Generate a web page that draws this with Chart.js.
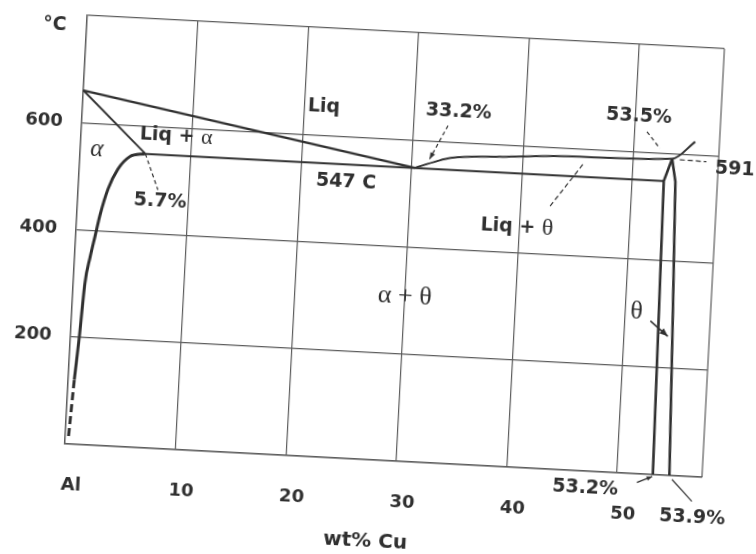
<!DOCTYPE html>
<html>
<head>
<meta charset="utf-8">
<script src="https://cdn.jsdelivr.net/npm/chart.js@4.4.1/dist/chart.umd.min.js"></script>
<style>
html,body{margin:0;padding:0;background:#fff;overflow:hidden;width:756px;height:554px;}
#wrap{position:absolute;left:0;top:0;width:756px;height:554px;transform:rotate(3deg);transform-origin:378px 277px;}
canvas{display:block;}
</style>
</head>
<body>
<div id="wrap"><canvas id="c" width="756" height="554"></canvas></div>
<script>
// ---------- data (wt% Cu, temperature in °C) ----------
const xTickLabels = ['Al', '10', '20', '30', '40', '50'];
const yTickValues = [200, 400, 600];

const liquidusAlX = [0, 30.3];
const liquidusAlT = [660, 548];
const solidusX = [0, 5.9];
const solidusT = [660, 548];
const solvusX = [0.55, 0.8, 1.05, 1.4, 1.75, 2.1, 2.7, 3.5, 4.5, 5.9];
const solvusT = [120, 200, 300, 350, 390, 430, 479, 517, 541, 548];
const solvusLowX = [0.3, 0.55];
const solvusLowT = [15, 120];
const eutecticX = [5.9, 52.85];
const eutecticT = [548, 548];
const liquidusThetaX = [30.3, 32.3, 33.5, 37.9, 45.2, 53.5, 55.5];
const liquidusThetaT = [548, 563, 570, 577, 585, 590, 624];
const thetaLeftX = [53.25, 52.85, 53.5];
const thetaLeftT = [0, 548, 590];
const thetaRightX = [54.75, 54.3, 53.9, 53.5];
const thetaRightT = [0, 300, 548, 590];

// leader lines
const lead57X = [5.9, 7.2];    const lead57T = [548, 482];
const lead332X = [33.1, 31.6]; const lead332T = [630, 566];
const lead535X = [51.1, 52.35]; const lead535T = [638, 608];
const lead591X = [54.2, 56.6]; const lead591T = [589, 588];
const leadLqX = [42.7, 45.5];  const leadLqT = [490, 572];
const thetaArrX = [52.3, 53.95]; const thetaArrT = [286, 259];
const arr532X = [51.85, 53.2]; const arr532T = [-16, -3.5];
const lead539X = [55.0, 56.9]; const lead539T = [-7, -46];

// annotation texts and their anchor (data units)
const labelTexts = ['Liq', 'Liq + |α', 'α', '5.7%', '547 C', '33.2%', '53.5%', '591', 'Liq + |θ', 'α + θ', 'θ', '53.2%', '53.9%'];
const labelX = [21.8, 8.6, 1.5, 7.45, 24.15, 34.0, 50.3, 59.2, 39.8, 30.0, 51.0, 47.2, 57.0];
const labelT = [653, 584, 552, 460, 515, 657, 665, 576, 448, 308, 301, -31, -76];

// ---------- styles ----------
const ink = '#303030';
const gridInk = '#5c5c5c';
const SANS = 'bold 19px "DejaVu Sans"';
const SERIF = '24px "Liberation Serif"';
const SERIF_I = 'italic 25px "Liberation Serif"';
const labelFonts = [SANS, [SANS, '22px "Liberation Serif"'], SERIF_I, SANS, SANS, SANS, SANS, SANS, [SANS, '24px "Liberation Serif"'], '26px "Liberation Serif"', '26px "Liberation Serif"', SANS, SANS];

function pts(xs, ts) { return xs.map((v, i) => ({x: v, y: ts[i]})); }
function line(label, xs, ts, extra) {
  return Object.assign({
    label: label, data: pts(xs, ts), showLine: true, pointRadius: 0, pointHoverRadius: 0,
    borderColor: ink, backgroundColor: ink, borderWidth: 2.4, fill: false, tension: 0, clip: false
  }, extra || {});
}

const datasets = [
  line('Liquidus (Al side)', liquidusAlX, liquidusAlT),
  line('Solidus', solidusX, solidusT, {borderWidth: 2}),
  line('Solvus', solvusX, solvusT, {borderWidth: 3, cubicInterpolationMode: 'monotone'}),
  line('Solvus low', solvusLowX, solvusLowT, {borderWidth: 3, borderDash: [8, 4]}),
  line('Eutectic 547', eutecticX, eutecticT, {borderWidth: 2}),
  line('Liquidus (θ side)', liquidusThetaX, liquidusThetaT, {borderWidth: 2, cubicInterpolationMode: 'monotone'}),
  line('θ left', thetaLeftX, thetaLeftT, {borderWidth: 2.6}),
  line('θ right', thetaRightX, thetaRightT, {borderWidth: 2.6}),
  line('lead 5.7', lead57X, lead57T, {borderWidth: 1.2, borderDash: [4, 3]}),
  line('lead 33.2', lead332X, lead332T, {borderWidth: 1.2, borderDash: [4, 3], arrow: 7}),
  line('lead 53.5', lead535X, lead535T, {borderWidth: 1.2, borderDash: [4, 3]}),
  line('lead 591', lead591X, lead591T, {borderWidth: 1.2, borderDash: [5, 3]}),
  line('lead Liq+θ', leadLqX, leadLqT, {borderWidth: 1.2, borderDash: [5, 3]}),
  line('θ arrow', thetaArrX, thetaArrT, {borderWidth: 1.6, arrow: 9}),
  line('53.2 arrow', arr532X, arr532T, {borderWidth: 1.2, arrow: 6}),
  line('lead 53.9', lead539X, lead539T, {borderWidth: 1.2})
];

const annot = {
  id: 'annot',
  afterDatasetsDraw(chart) {
    const {ctx, scales: {x, y}, chartArea: a} = chart;
    ctx.save();
    // right frame edge
    ctx.strokeStyle = gridInk; ctx.lineWidth = 1.2;
    ctx.beginPath(); ctx.moveTo(a.right, a.top); ctx.lineTo(a.right, a.bottom); ctx.stroke();
    // arrowheads
    chart.data.datasets.forEach((ds, i) => {
      if (!ds.arrow) return;
      const d = chart.getDatasetMeta(i).data;
      const p1 = d[d.length - 2], p2 = d[d.length - 1];
      const ang = Math.atan2(p2.y - p1.y, p2.x - p1.x), L = ds.arrow;
      ctx.fillStyle = ink;
      ctx.beginPath();
      ctx.moveTo(p2.x, p2.y);
      ctx.lineTo(p2.x - L * Math.cos(ang - 0.38), p2.y - L * Math.sin(ang - 0.38));
      ctx.lineTo(p2.x - L * Math.cos(ang + 0.38), p2.y - L * Math.sin(ang + 0.38));
      ctx.closePath(); ctx.fill();
    });
    // labels
    ctx.fillStyle = ink; ctx.textBaseline = 'middle'; ctx.textAlign = 'left';
    labelTexts.forEach((t, i) => {
      const parts = t.split('|');
      const fonts = Array.isArray(labelFonts[i]) ? labelFonts[i] : [labelFonts[i]];
      let w = 0; const ws = [];
      parts.forEach((p, j) => { ctx.font = fonts[Math.min(j, fonts.length - 1)]; ws.push(ctx.measureText(p).width); w += ws[j]; });
      let px = x.getPixelForValue(labelX[i]) - w / 2;
      const py = y.getPixelForValue(labelT[i]);
      parts.forEach((p, j) => { ctx.font = fonts[Math.min(j, fonts.length - 1)]; ctx.fillText(p, px, py); px += ws[j]; });
    });
    // axis unit and axis title
    ctx.textAlign = 'center';
    ctx.font = 'bold 19px "DejaVu Sans"';
    ctx.fillText('°C', a.left - 32, a.top + 11);
    ctx.font = 'bold 20px "DejaVu Sans"';
    ctx.fillText('wt% Cu', a.left + 305, chart.height - 12);
    ctx.restore();
  }
};

new Chart(document.getElementById('c'), {
  type: 'scatter',
  data: {datasets: datasets},
  options: {
    responsive: false, animation: false, devicePixelRatio: 1,
    layout: {padding: {left: 0, top: 31, right: 44, bottom: 0}},
    plugins: {legend: {display: false}, tooltip: {enabled: false}},
    scales: {
      x: {
        type: 'linear', min: 0, max: 57.7,
        afterFit(s) { s.height = 94; },
        grid: {color: gridInk, lineWidth: 1.2, drawTicks: false},
        border: {color: gridInk, width: 1.4},
        ticks: {
          stepSize: 10, includeBounds: false, padding: 31, labelOffset: 8, maxRotation: 0,
          color: ink, font: {family: 'DejaVu Sans', size: 18, weight: 'bold'},
          callback: (v) => { const k = Math.round(v / 10); return (v % 10 === 0 && k < xTickLabels.length) ? xTickLabels[k] : ''; }
        }
      },
      y: {
        type: 'linear', min: 0, max: 800,
        afterFit(s) { s.width = 74; },
        grid: {color: gridInk, lineWidth: 1.2, drawTicks: false},
        border: {color: gridInk, width: 1.4},
        ticks: {
          stepSize: 200, padding: 19, color: ink,
          font: {family: 'DejaVu Sans', size: 18, weight: 'bold'},
          callback: (v) => yTickValues.includes(v) ? String(v) : ''
        }
      }
    }
  },
  plugins: [annot]
});
</script>
</body>
</html>
